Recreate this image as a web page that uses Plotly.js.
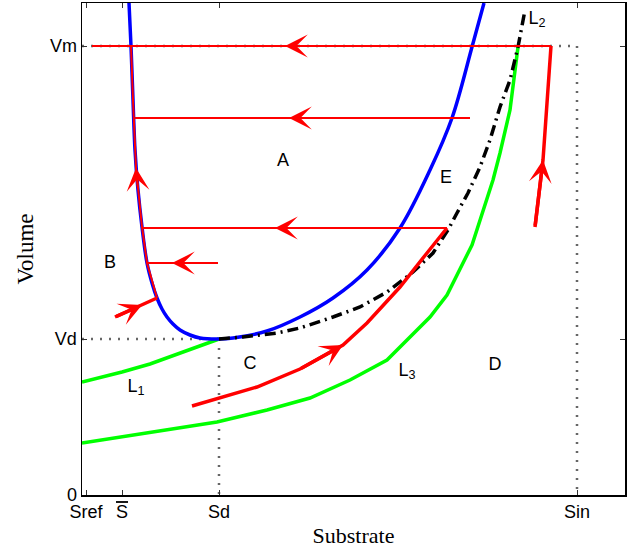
<!DOCTYPE html>
<html>
<head>
<meta charset="utf-8">
<script src="https://cdn.plot.ly/plotly-3.0.1.min.js"></script>
<style>html,body{margin:0;padding:0;background:#fff}#chart{width:627px;height:552px}</style>
</head>
<body>
<div id="chart"></div>
<script>
// Key levels
var Sref = 4, Sbar = 40, Sd = 137, Sin = 495;
var Vd = 156, Vm = 449;
var xTickVals = [Sref, Sbar, Sd, Sin];
var xTickText = ['Sref', '<span style="text-decoration:overline">S</span>', 'Sd', 'Sin'];
var yTickVals = [0, Vd, Vm];
var yTickText = ['0', 'Vd', 'Vm'];

// Blue U-shaped curve
var blueX = [47, 49, 51, 53, 56, 60, 65, 70, 75, 80, 85, 91, 98, 108, 118, 137, 151, 185, 218, 251, 285, 318, 348, 370, 390, 402];
var blueY = [492, 449, 395, 345, 305, 268, 232, 212, 197, 186, 178, 171, 165, 160, 157, 156, 157, 164, 178, 197, 225, 267, 325, 377, 448, 492];

// Black dash-dot curve L2
var l2X = [137, 161, 195, 218, 251, 278, 305, 331, 351, 366, 375, 386, 398, 408, 418, 428, 436, 443];
var l2Y = [156, 158, 162, 167, 178, 188, 203, 223, 242, 265, 282, 302, 328, 355, 388, 415, 448, 485];

// Green curves L1 and L3
var l1X = [0, 40, 68, 101, 137];
var l1Y = [113, 123, 131, 143, 156];
var l3X = [0, 68, 135, 185, 228, 268, 305, 348, 365, 390, 411, 418, 428, 436];
var l3Y = [52, 63, 73, 85, 97, 115, 135, 178, 200, 250, 315, 342, 385, 448];

// Red trajectories (arrow flag: 1 = arrowhead at that point)
var trajLowX = [110, 138, 175, 218, 261, 285, 318, 345, 365];
var trajLowY = [89, 97, 108, 126, 150, 172, 208, 242, 267];
var trajLowA = [0, 0, 0, 0, 1, 0, 0, 0, 0];
var trajEX = [365, 193, 60];
var trajEY = [267, 267, 267];
var trajEA = [0, 1, 0];
var trajRightX = [453, 461, 469];
var trajRightY = [268, 335, 449];
var trajRightA = [0, 1, 0];
var trajTopX = [469, 203, 10];
var trajTopY = [449, 449, 449];
var trajTopA = [0, 1, 0];
var trajMidX = [388, 207, 53];
var trajMidY = [377, 377, 377];
var trajMidA = [0, 1, 0];
var trajShortX = [136, 90, 65];
var trajShortY = [232, 232, 232];
var trajShortA = [0, 1, 0];
var trajBlueX = [75, 65, 60, 56, 54, 51, 49];
var trajBlueY = [197, 232, 268, 305, 327, 395, 449];
var trajBlueA = [0, 0, 0, 0, 1, 0, 0];
var trajInX = [33, 60, 75];
var trajInY = [178, 190, 197];
var trajInA = [0, 1, 0];

// Region labels
var labText = ['A', 'B', 'C', 'D', 'E', 'L<sub>1</sub>', 'L<sub>2</sub>', 'L<sub>3</sub>'];
var labX = [201, 28, 168, 413, 364, 54, 455, 325];
var labY = [334, 232, 131, 130, 317, 108, 476, 124];

var grey = '#666666';
var traces = [];
var annotations = [];
function guide(xs, ys) {
  traces.push({x: xs, y: ys, mode: 'lines', hoverinfo: 'skip',
    line: {color: grey, width: 2.5, dash: '2px,7px'}});
}
guide([0, Sd], [Vd, Vd]);
guide([Sd, Sd], [Vd, 0]);
guide([0, Sin], [Vm, Vm]);
guide([Sin, Sin], [Vm, 0]);

traces.push({x: l1X, y: l1Y, mode: 'lines', line: {color: '#00ff00', width: 3.5}});
traces.push({x: l3X, y: l3Y, mode: 'lines', line: {color: '#00ff00', width: 3.5}});
traces.push({x: blueX, y: blueY, mode: 'lines', line: {color: '#0000ff', width: 3.5, shape: 'spline', smoothing: 1}});
traces.push({x: l2X, y: l2Y, mode: 'lines', line: {color: '#000000', width: 3.5, dash: '11px,5px,2px,5px'}});

var HEAD = 3.8;
function traj(xs, ys, arr, w) {
  traces.push({x: xs, y: ys, mode: 'lines', line: {color: '#ff0000', width: w}});
  for (var i = 1; i < xs.length; i++) {
    if (!arr[i]) continue;
    annotations.push({x: xs[i], y: ys[i], ax: xs[i - 1], ay: ys[i - 1],
      xref: 'x', yref: 'y', axref: 'x', ayref: 'y', text: '', showarrow: true,
      arrowhead: 3, arrowcolor: '#ff0000', arrowwidth: w, arrowsize: HEAD / w, standoff: 0});
  }
}
traj(trajLowX, trajLowY, trajLowA, 3.5);
traj(trajEX, trajEY, trajEA, 2);
traj(trajRightX, trajRightY, trajRightA, 3.5);
traj(trajTopX, trajTopY, trajTopA, 2);
traj(trajMidX, trajMidY, trajMidA, 2);
traj(trajShortX, trajShortY, trajShortA, 2);
traj(trajBlueX, trajBlueY, trajBlueA, 2);
traj(trajInX, trajInY, trajInA, 3.5);

traces.push({x: labX, y: labY, text: labText, mode: 'text', textposition: 'middle center',
  textfont: {family: 'Liberation Sans, Arial, sans-serif', size: 18, color: '#000'}});

var tickFont = {family: 'Liberation Sans, Arial, sans-serif', size: 18, color: '#000'};
var layout = {
  width: 627, height: 552,
  margin: {l: 82, r: 2, t: 3, b: 57},
  showlegend: false,
  paper_bgcolor: '#fff', plot_bgcolor: '#fff',
  annotations: annotations,
  xaxis: {range: [0, 543], tickmode: 'array', tickvals: xTickVals, ticktext: xTickText,
    ticks: 'inside', ticklen: 5, tickcolor: '#333', tickwidth: 1,
    showline: true, linecolor: '#000', linewidth: 1.5, mirror: 'ticks',
    showgrid: false, zeroline: false, tickfont: tickFont,
    title: {text: 'Substrate', font: {family: 'Liberation Serif, Times New Roman, serif', size: 22, color: '#000'}, standoff: 6}},
  yaxis: {range: [0, 492], tickmode: 'array', tickvals: yTickVals, ticktext: yTickText,
    ticks: 'inside', ticklen: 5, tickcolor: '#333', tickwidth: 1,
    showline: true, linecolor: '#000', linewidth: 1.5, mirror: 'ticks',
    showgrid: false, zeroline: false, tickfont: tickFont,
    title: {text: 'Volume', font: {family: 'Liberation Serif, Times New Roman, serif', size: 23, color: '#000'}, standoff: 10}}
};
Plotly.newPlot('chart', traces, layout, {displayModeBar: false, staticPlot: true});
</script>
</body>
</html>
